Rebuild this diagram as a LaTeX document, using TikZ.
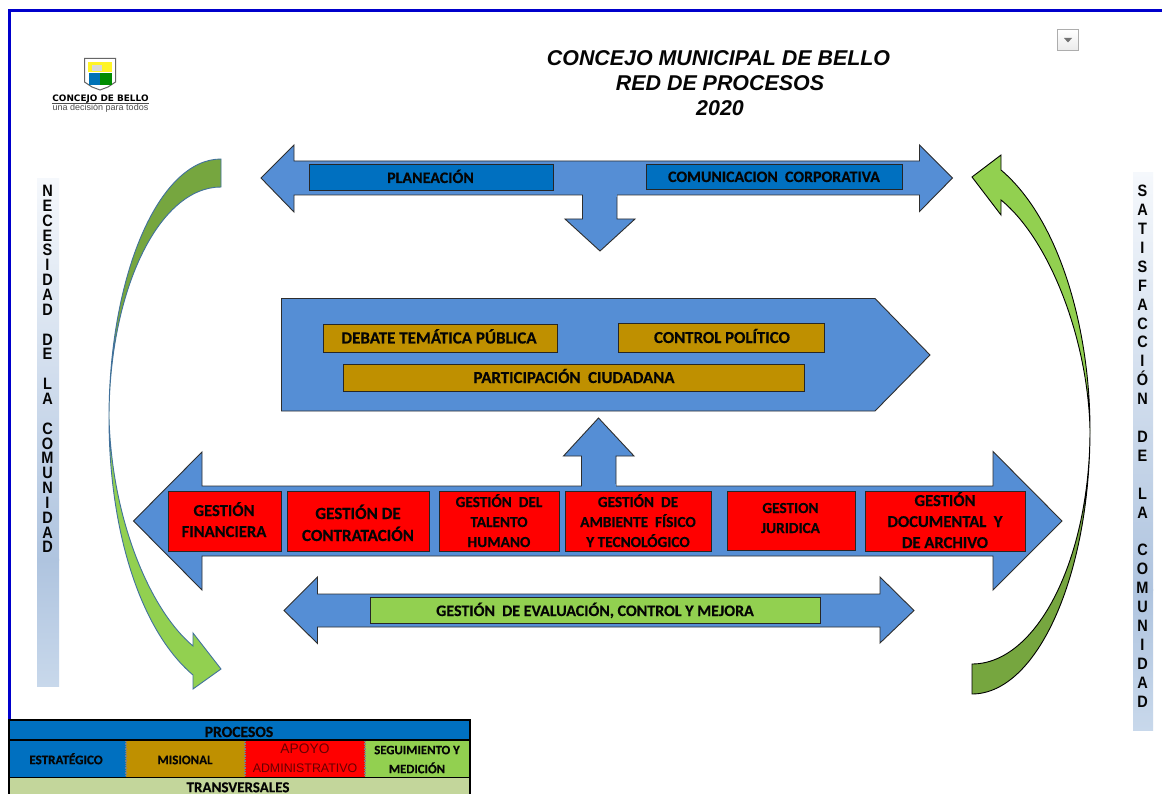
\documentclass[tikz,border=0pt]{standalone}
\usepackage{fontspec}
\setmainfont{Carlito}[BoldFeatures={FakeBold=0.35}]
\newfontfamily\arialf{Liberation Sans}
\newfontfamily\arialn{Liberation Sans}[FakeStretch=0.88]
\newfontfamily\dejaf{DejaVu Sans}
\definecolor{arrowblue}{HTML}{558ED5}
\definecolor{boxblue}{HTML}{0070C0}
\definecolor{gold}{HTML}{BF9000}
\definecolor{lightgreen}{HTML}{92D050}
\definecolor{darkgreen}{HTML}{76A63F}
\definecolor{paleolive}{HTML}{C3D69B}
\definecolor{frameblue}{HTML}{0000CC}
\definecolor{edgeblue}{HTML}{41719C}
\definecolor{barA}{HTML}{F5F8FC}
\definecolor{barB}{HTML}{AFC4DF}
\definecolor{barC}{HTML}{C8D8EB}
\definecolor{txtk}{HTML}{050505}
\newcommand{\fs}[1]{\fontsize{#1}{#1}\selectfont}
\tikzset{
  x=1pt,y=-1pt,
  blockarrow/.style={draw=black!82,line width=0.9pt,fill=arrowblue,line join=miter},
  procbox/.style={draw=black!85,line width=0.9pt},
  lbl/.style={inner sep=0pt,outer sep=0pt,anchor=center,text=txtk,text height=10pt,text depth=0pt},
  lbls/.style={lbl,text height=8.4pt},
  ttl/.style={lbl,text height=15pt,font=\arialf\bfseries\itshape\fs{21.4}},
  sidetxt/.style={inner sep=0pt,align=center,anchor=north,text=txtk},
  sep/.style={draw=gray,line width=1.4pt,densely dotted},
}
\begin{document}
\begin{tikzpicture}
\clip (0,0) rectangle (1162,794);
\fill[white] (0,0) rectangle (1162,794);
% frame
\draw[frameblue,line width=2.2pt] (9.5,720) -- (9.5,10.5) -- (1162,10.5);
% title
\node[ttl] (t1) at (718.5,58) {CONCEJO MUNICIPAL DE BELLO};
\node[ttl] (t2) at (720,83) {RED DE PROCESOS};
\node[ttl] (t3) at (720,108) {2020};
% dropdown button
\shade[top color=white,bottom color=black!8,draw=black!32,line width=1pt] (1057.5,29.5) rectangle (1078.5,50.5);
\fill[black!55] (1064,38) -- (1072,38) -- (1068,42.5) -- cycle;
% logo
\fill[white,draw=black!60,line width=1pt] (84.5,58.5) -- (115.5,58.5) -- (115.5,82) -- (108,87) -- (100,90) -- (92,87) -- (84.5,82) -- cycle;
\fill[yellow!85!white] (88,62) rectangle (112,72.5);
\fill[white!70!gray] (92,65) rectangle (102,71);
\fill[boxblue!85!teal] (89,73) rectangle (100,85);
\fill[green!55!black] (100,73) rectangle (112,85);
\node[lbls,text=black,text height=6.5pt,font=\dejaf\bfseries\fs{8.9}] (logoa) at (100.5,98) {CONCEJO DE BELLO};
\draw[black!70,line width=0.5pt] (52,103) -- (149,103);
\node[lbls,text=black!70,text height=6.5pt,font=\arialf\mdseries\fs{9}] (logob) at (100.5,107.5) {una decisión para todos};
% side bars
\shade[top color=barA,bottom color=barB] (37,179) rectangle (59,560);
\shade[top color=barB,bottom color=barC] (37,559.5) rectangle (59,686);
\shade[top color=barA,bottom color=barB] (1133,173) rectangle (1153,590);
\shade[top color=barB,bottom color=barC] (1133,589.5) rectangle (1153,730);
\node[sidetxt,font=\arialn\bfseries\fontsize{16.5}{14.85}\selectfont] (sideL) at (47.5,185) {N\\E\\C\\E\\S\\I\\D\\A\\D\\~\\D\\E\\~\\L\\A\\~\\C\\O\\M\\U\\N\\I\\D\\A\\D};
\node[sidetxt,font=\arialn\bfseries\fontsize{16.5}{18.9}\selectfont] (sideR) at (1142.5,185) {S\\A\\T\\I\\S\\F\\A\\C\\C\\I\\Ó\\N\\~\\D\\E\\~\\L\\A\\~\\C\\O\\M\\U\\N\\I\\D\\A\\D};
% curved arrows left
\draw[edgeblue,line width=0.9pt,fill=lightgreen,line join=miter]
  (109,418) .. controls (109,530) and (140,630) .. (193,675) -- (193,689) -- (221,669) -- (193,633) -- (193,646)
  .. controls (150,610) and (112,520) .. (109,418) -- cycle;
\draw[edgeblue,line width=0.9pt,fill=darkgreen]
  (221,159) .. controls (159,159) and (109,275) .. (109,418)
  .. controls (109,290) and (159,187) .. (221,187) -- cycle;
% curved arrows right
\draw[black,line width=0.9pt,fill=lightgreen,line join=miter]
  (1090,430) .. controls (1090,330) and (1060,220) .. (1001,170) -- (1001,155) -- (972,177) -- (1001,215) -- (1001,200)
  .. controls (1050,240) and (1088,340) .. (1090,430) -- cycle;
\draw[black,line width=0.9pt,fill=darkgreen]
  (972,694) .. controls (1037,694) and (1090,576) .. (1090,430)
  .. controls (1090,559) and (1037,664) .. (972,664) -- cycle;
% top arrow
\draw[blockarrow] (582.5,193) -- (582.5,219) -- (565,219) -- (600,251) -- (635,219) -- (617,219) -- (617,193);
\draw[blockarrow] (261,178) -- (294,145) -- (294,161) -- (919.5,161) -- (919.5,145) -- (952.5,178) -- (919.5,211.5) -- (919.5,195) -- (294,195) -- (294,212) -- cycle;
\fill[arrowblue] (583,193) rectangle (616.5,197);
\draw[procbox,fill=boxblue] (309.5,164.5) rectangle (553,190);
\node[lbl,font=\bfseries\fs{16}] (plan) at (430.5,178) {PLANEACIÓN};
\draw[procbox,fill=boxblue] (646.5,164.5) rectangle (902.5,189);
\node[lbl,font=\bfseries\fs{15.9}] (comu) at (774,177) {COMUNICACION\ \ CORPORATIVA};
% center pentagon
\draw[blockarrow] (281.5,298.5) -- (875,298.5) -- (930,355) -- (875,411) -- (281.5,411) -- cycle;
\draw[procbox,fill=gold] (323,324.5) rectangle (557,352);
\node[lbl,font=\bfseries\fs{17}] (deba) at (439,338.5) {DEBATE TEMÁTICA PÚBLICA};
\draw[procbox,fill=gold] (618.5,323.5) rectangle (824.5,352);
\node[lbl,font=\bfseries\fs{16.8}] (ctrl) at (722,338) {CONTROL POLÍTICO};
\draw[procbox,fill=gold] (343.5,364) rectangle (804,391);
\node[lbl,font=\bfseries\fs{16.8}] (part) at (574,378) {PARTICIPACIÓN\ \ CIUDADANA};
% big arrow
\draw[blockarrow] (581.5,488) -- (581.5,456) -- (563.5,456) -- (598.5,418) -- (634,456) -- (616,456) -- (616,488);
\draw[blockarrow] (133.5,521) -- (202,452) -- (202,486) -- (993,486) -- (993,451.5) -- (1062,521) -- (993,590) -- (993,556) -- (202,556) -- (202,590) -- cycle;
\fill[arrowblue] (582,484) rectangle (615.5,488);
\draw[procbox,fill=red] (168.5,491) rectangle (281,551);
\node[lbl,font=\bfseries\fs{16.6}] (fin1) at (224,511) {GESTIÓN};
\node[lbl,font=\bfseries\fs{16.6}] (fin2) at (224,532) {FINANCIERA};
\draw[procbox,fill=red] (287.5,491) rectangle (429,551);
\node[lbl,font=\bfseries\fs{17}] (con1) at (358,514) {GESTIÓN DE};
\node[lbl,font=\bfseries\fs{17}] (con2) at (358,536) {CONTRATACIÓN};
\draw[procbox,fill=red] (439.5,491) rectangle (559.5,551);
\node[lbl,font=\bfseries\fs{15.3}] (tal1) at (499,502) {GESTIÓN\ \ DEL};
\node[lbl,font=\bfseries\fs{15.3}] (tal2) at (499,522) {TALENTO};
\node[lbl,font=\bfseries\fs{15.3}] (tal3) at (499,542) {HUMANO};
\draw[procbox,fill=red] (565,491) rectangle (711.5,551.5);
\node[lbl,font=\bfseries\fs{15.3}] (amb1) at (638,502) {GESTIÓN\ \ DE};
\node[lbl,font=\bfseries\fs{15.3}] (amb2) at (638,522) {AMBIENTE\ \ FÍSICO};
\node[lbl,font=\bfseries\fs{15.3}] (amb3) at (638,542) {Y TECNOLÓGICO};
\draw[procbox,fill=red] (727,491) rectangle (855,550.5);
\node[lbl,font=\bfseries\fs{15.3}] (jur1) at (790.5,508) {GESTION};
\node[lbl,font=\bfseries\fs{15.3}] (jur2) at (790.5,528) {JURIDICA};
\draw[procbox,fill=red] (865.5,491) rectangle (1025.5,551);
\node[lbl,font=\bfseries\fs{16.6}] (doc1) at (945,501) {GESTIÓN};
\node[lbl,font=\bfseries\fs{16.6}] (doc2) at (945,522) {DOCUMENTAL\ \ Y};
\node[lbl,font=\bfseries\fs{16.6}] (doc3) at (945,543) {DE ARCHIVO};
% lower arrow
\draw[blockarrow] (284,610.5) -- (317.5,577) -- (317.5,594) -- (880,594) -- (880,577) -- (914,610.5) -- (880,643) -- (880,627) -- (317.5,627) -- (317.5,643.5) -- cycle;
\draw[procbox,fill=lightgreen] (370,597) rectangle (820.5,623);
\node[lbl,font=\bfseries\fs{16}] (eval) at (595,611) {GESTIÓN\ \ DE EVALUACIÓN, CONTROL Y MEJORA};
% legend
\fill[boxblue] (9,720) rectangle (469,740);
\fill[boxblue] (9,740) rectangle (126,777);
\fill[gold] (126,740) rectangle (245,777);
\fill[red] (245,740) rectangle (365,777);
\fill[lightgreen] (365,740) rectangle (469,777);
\fill[paleolive] (9,777) rectangle (469,794);
\draw[sep] (126,741) -- (126,776);
\draw[sep] (245,741) -- (245,776);
\draw[sep] (365,741) -- (365,776);
\draw[black,line width=1.6pt] (9,740) -- (469,740);
\draw[black,line width=1.6pt] (9,777.5) -- (469,777.5);
\draw[black,line width=2pt] (8.5,794) -- (8.5,720) -- (469.5,720) -- (469.5,794);
\node[lbl,font=\bfseries\fs{15.6}] (lg0) at (239,732) {PROCESOS};
\node[lbls,font=\bfseries\fs{13.1}] (lg1) at (66,760) {ESTRATÉGICO};
\node[lbls,font=\bfseries\fs{13}] (lg2) at (185,760) {MISIONAL};
\node[lbls,text=red!40!black,font=\arialf\mdseries\fs{13.8}] (lg3a) at (305,749) {APOYO};
\node[lbls,text=red!40!black,font=\arialf\mdseries\fs{12.4}] (lg3b) at (305,768) {ADMINISTRATIVO};
\node[lbls,font=\bfseries\fs{12.8}] (lg4a) at (417,750) {SEGUIMIENTO Y};
\node[lbls,font=\bfseries\fs{12.8}] (lg4b) at (417,769) {MEDICIÓN};
\node[lbl,text height=9.4pt,font=\bfseries\fs{15}] (lg5) at (238,787.5) {TRANSVERSALES};
\end{tikzpicture}
\end{document}
